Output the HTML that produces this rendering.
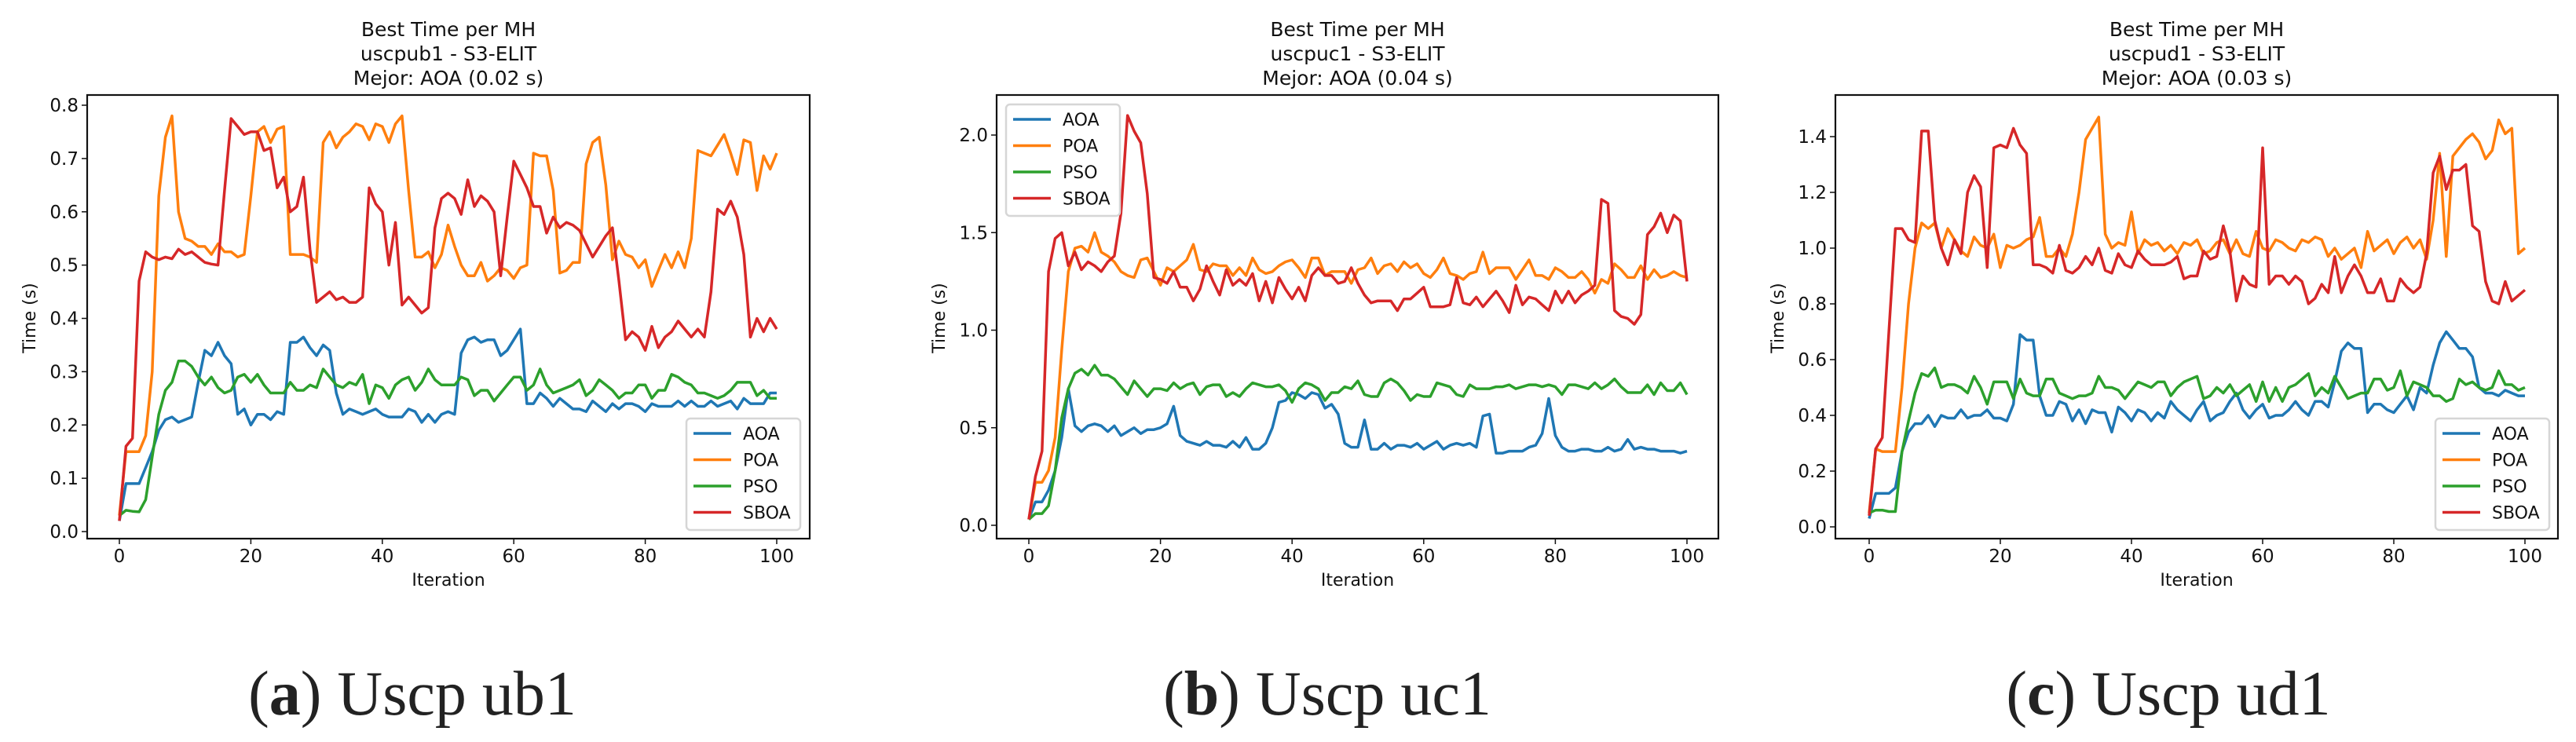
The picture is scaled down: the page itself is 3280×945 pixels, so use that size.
<!DOCTYPE html>
<html><head><meta charset="utf-8"><style>
html,body{margin:0;padding:0;background:#fff;}
svg{display:block;font-family:"DejaVu Sans","Liberation Sans",sans-serif;}
.cap{font-family:"Liberation Serif",serif;font-size:80px;fill:#222;}
</style></head><body>
<svg id="fig" width="3280" height="945" viewBox="0 0 3280 945" xmlns="http://www.w3.org/2000/svg">
<text class="cap" x="525" y="910" text-anchor="middle">(<tspan font-weight="bold">a</tspan>) Uscp ub1</text>
<text class="cap" x="1690" y="910" text-anchor="middle">(<tspan font-weight="bold">b</tspan>) Uscp uc1</text>
<text class="cap" x="2761" y="910" text-anchor="middle">(<tspan font-weight="bold">c</tspan>) Uscp ud1</text>
</svg>
<script>
const seriesNames = ["AOA","POA","PSO","SBOA"];
const seriesColors = ["#1f77b4","#ff7f0e","#2ca02c","#d62728"];
const xTicks = [0,20,40,60,80,100];

const ub1AOA = [.02,.09,.09,.09,.12,.15,.19,.21,.215,.205,.21,.215,.28,.34,.33,.355,.33,.315,.22,.23,.2,.22,.22,.21,.225,.22,.355,.355,.365,.345,.33,.35,.34,.26,.22,.23,.225,.22,.225,.23,.22,.215,.215,.215,.23,.225,.205,.22,.205,.22,.225,.22,.335,.36,.365,.355,.36,.36,.33,.34,.36,.38,.24,.24,.26,.25,.235,.25,.24,.23,.23,.225,.245,.235,.225,.24,.23,.24,.24,.235,.225,.24,.235,.235,.235,.245,.235,.245,.235,.235,.245,.235,.24,.245,.23,.25,.24,.24,.24,.26,.26];
const ub1POA = [.03,.15,.15,.15,.18,.3,.63,.74,.78,.6,.55,.545,.535,.535,.52,.54,.525,.525,.515,.52,.63,.75,.76,.73,.755,.76,.52,.52,.52,.515,.505,.73,.75,.72,.74,.75,.765,.76,.735,.765,.76,.73,.765,.78,.64,.515,.515,.525,.495,.52,.575,.535,.5,.48,.48,.505,.47,.48,.495,.49,.475,.495,.5,.71,.705,.705,.64,.485,.49,.505,.505,.69,.73,.74,.65,.51,.545,.52,.515,.495,.51,.46,.49,.52,.495,.525,.495,.55,.715,.71,.705,.725,.745,.71,.67,.735,.73,.64,.705,.68,.71];
const ub1PSO = [.03,.04,.038,.037,.06,.14,.22,.265,.28,.32,.32,.31,.29,.275,.29,.27,.26,.265,.29,.295,.28,.295,.275,.26,.26,.26,.28,.265,.265,.275,.27,.305,.29,.275,.27,.28,.275,.295,.24,.275,.27,.25,.275,.285,.29,.265,.28,.305,.285,.275,.275,.275,.29,.285,.255,.265,.265,.245,.26,.275,.29,.29,.265,.275,.305,.275,.26,.265,.27,.275,.285,.255,.265,.285,.275,.265,.25,.26,.26,.275,.275,.25,.265,.265,.295,.29,.28,.275,.26,.26,.255,.25,.255,.265,.28,.28,.28,.255,.265,.25,.25];
const ub1SBOA = [.02,.16,.175,.47,.525,.515,.51,.515,.512,.53,.52,.525,.515,.505,.502,.5,.64,.775,.76,.745,.75,.75,.715,.72,.645,.665,.6,.61,.665,.53,.43,.44,.45,.435,.44,.43,.43,.44,.645,.615,.6,.5,.58,.425,.44,.425,.41,.42,.57,.625,.635,.625,.595,.66,.61,.63,.62,.6,.48,.59,.695,.67,.645,.61,.61,.56,.59,.57,.58,.575,.565,.54,.515,.535,.555,.57,.47,.36,.375,.365,.34,.385,.345,.365,.375,.395,.38,.365,.38,.365,.45,.605,.595,.62,.59,.52,.365,.4,.375,.4,.38];

const uc1AOA = [.03,.12,.12,.18,.28,.45,.7,.51,.48,.51,.52,.51,.48,.51,.46,.48,.5,.47,.49,.49,.5,.52,.61,.46,.43,.42,.41,.43,.41,.41,.4,.43,.4,.45,.39,.39,.42,.5,.63,.64,.68,.67,.65,.68,.67,.6,.62,.57,.42,.4,.4,.54,.39,.39,.42,.39,.41,.41,.4,.42,.39,.41,.43,.39,.41,.42,.41,.42,.4,.56,.57,.37,.37,.38,.38,.38,.4,.41,.47,.65,.46,.4,.38,.38,.39,.39,.38,.38,.4,.38,.39,.44,.39,.4,.39,.39,.38,.38,.38,.37,.38];
const uc1POA = [.03,.22,.22,.28,.45,.9,1.3,1.42,1.43,1.4,1.5,1.4,1.38,1.35,1.3,1.28,1.27,1.36,1.37,1.3,1.23,1.32,1.3,1.33,1.36,1.44,1.31,1.3,1.34,1.33,1.33,1.28,1.32,1.28,1.37,1.31,1.29,1.3,1.33,1.35,1.36,1.32,1.27,1.37,1.37,1.28,1.3,1.3,1.3,1.24,1.31,1.32,1.37,1.29,1.33,1.34,1.3,1.35,1.32,1.34,1.29,1.27,1.31,1.37,1.29,1.28,1.26,1.29,1.3,1.4,1.29,1.32,1.32,1.32,1.26,1.31,1.36,1.28,1.28,1.26,1.32,1.3,1.27,1.27,1.3,1.26,1.19,1.26,1.24,1.34,1.31,1.27,1.27,1.33,1.26,1.31,1.27,1.28,1.3,1.28,1.27];
const uc1PSO = [.03,.06,.06,.1,.28,.55,.7,.78,.8,.77,.82,.77,.77,.75,.71,.67,.74,.7,.66,.7,.7,.69,.73,.7,.72,.73,.67,.71,.72,.72,.66,.68,.66,.7,.73,.72,.71,.71,.72,.69,.63,.7,.73,.72,.7,.64,.68,.68,.71,.7,.74,.67,.66,.66,.73,.75,.73,.69,.64,.67,.66,.66,.73,.72,.71,.67,.66,.72,.7,.7,.7,.71,.71,.72,.7,.71,.72,.72,.71,.72,.71,.67,.72,.72,.71,.7,.73,.7,.72,.75,.71,.68,.68,.68,.72,.67,.73,.69,.69,.73,.67];
const uc1SBOA = [.03,.25,.38,1.3,1.47,1.5,1.33,1.4,1.31,1.35,1.33,1.3,1.35,1.38,1.6,2.1,2.02,1.96,1.7,1.27,1.26,1.24,1.3,1.22,1.22,1.15,1.21,1.33,1.25,1.18,1.31,1.23,1.26,1.23,1.29,1.15,1.25,1.14,1.27,1.21,1.16,1.22,1.15,1.28,1.32,1.28,1.28,1.24,1.25,1.32,1.24,1.18,1.14,1.15,1.15,1.15,1.1,1.16,1.16,1.19,1.22,1.12,1.12,1.12,1.13,1.27,1.14,1.13,1.17,1.12,1.16,1.2,1.15,1.09,1.23,1.13,1.17,1.16,1.13,1.1,1.2,1.14,1.2,1.14,1.18,1.2,1.23,1.67,1.65,1.1,1.07,1.06,1.03,1.08,1.49,1.53,1.6,1.5,1.59,1.56,1.25];

const ud1AOA = [.03,.12,.12,.12,.14,.27,.34,.37,.37,.4,.36,.4,.39,.39,.42,.39,.4,.4,.42,.39,.39,.38,.44,.69,.67,.67,.47,.4,.4,.45,.44,.38,.42,.37,.42,.41,.41,.34,.43,.41,.38,.42,.41,.38,.41,.39,.45,.42,.4,.38,.42,.45,.38,.4,.41,.45,.48,.42,.39,.42,.44,.39,.4,.4,.42,.45,.42,.4,.45,.45,.43,.52,.63,.66,.64,.64,.41,.44,.44,.42,.41,.44,.47,.42,.5,.48,.58,.66,.7,.67,.64,.64,.61,.5,.48,.48,.47,.49,.48,.47,.47];
const ud1POA = [.05,.28,.27,.27,.27,.5,.8,1.0,1.09,1.07,1.09,1.0,1.07,1.03,.99,.97,1.04,1.01,1.0,1.05,.93,1.01,1.0,1.01,1.03,1.04,1.11,.97,.97,1.0,.97,1.05,1.2,1.39,1.43,1.47,1.05,1.0,1.02,1.01,1.13,.98,1.03,1.01,1.02,.99,1.01,.98,1.02,1.01,1.03,.98,.99,1.02,1.03,.98,1.03,.98,.97,1.06,1.0,.99,1.03,1.02,1.0,.99,1.03,1.02,1.04,1.03,.97,1.0,.96,.98,1.0,.93,1.06,.99,1.01,1.03,.98,1.02,1.04,1.0,1.03,.96,1.1,1.34,.97,1.33,1.36,1.39,1.41,1.38,1.32,1.35,1.46,1.41,1.43,.98,1.0];
const ud1PSO = [.05,.06,.06,.055,.055,.27,.38,.48,.55,.54,.57,.5,.51,.51,.5,.48,.54,.5,.44,.52,.52,.52,.46,.53,.48,.47,.47,.53,.53,.48,.47,.46,.47,.47,.48,.54,.5,.5,.49,.46,.49,.52,.51,.5,.52,.52,.47,.5,.52,.53,.54,.46,.47,.5,.48,.51,.47,.49,.51,.45,.52,.45,.5,.45,.5,.51,.53,.55,.47,.5,.48,.54,.5,.46,.47,.48,.48,.53,.53,.49,.5,.56,.47,.52,.51,.5,.47,.47,.45,.46,.53,.51,.52,.5,.49,.5,.56,.51,.51,.49,.5];
const ud1SBOA = [.04,.28,.32,.7,1.07,1.07,1.03,1.02,1.42,1.42,1.1,1.0,.94,1.03,.98,1.2,1.26,1.22,.93,1.36,1.37,1.36,1.43,1.37,1.34,.94,.94,.93,.91,1.01,.92,.91,.93,.97,.94,1.0,.92,.91,.98,.94,.93,.99,.96,.94,.94,.94,.95,.97,.89,.9,.9,.99,.96,.97,1.08,.99,.81,.9,.87,.86,1.36,.87,.9,.9,.87,.9,.88,.8,.82,.87,.84,.97,.84,.9,.94,.9,.84,.84,.89,.81,.81,.89,.86,.84,.86,.98,1.27,1.33,1.21,1.28,1.28,1.3,1.08,1.06,.88,.81,.8,.88,.81,.83,.85];

const yTicks1 = [0,0.1,0.2,0.3,0.4,0.5,0.6,0.7,0.8];
const yTicks2 = [0,0.5,1.0,1.5,2.0];
const yTicks3 = [0,0.2,0.4,0.6,0.8,1.0,1.2,1.4];
const titles = ["uscpub1 - S3-ELIT","uscpuc1 - S3-ELIT","uscpud1 - S3-ELIT"];
const bests = ["Mejor: AOA (0.02 s)","Mejor: AOA (0.04 s)","Mejor: AOA (0.03 s)"];

const NS="http://www.w3.org/2000/svg";
const svg=document.getElementById('fig');
function mk(tag,attrs,parent){const e=document.createElementNS(NS,tag);for(const k in attrs)e.setAttribute(k,attrs[k]);(parent||svg).appendChild(e);return e;}

const panels=[
 {id:"ub1",L:111,R:1031,T:121,B:686,x0:152,x100:989,y0:677,yTop:134,yTopVal:0.8,ticks:yTicks1,dec:1,series:[ub1AOA,ub1POA,ub1PSO,ub1SBOA],leg:[874,533],ylx:37},
 {id:"uc1",L:1269,R:2188,T:121,B:686,x0:1310,x100:2148,y0:669,yTop:172,yTopVal:2.0,ticks:yTicks2,dec:1,series:[uc1AOA,uc1POA,uc1PSO,uc1SBOA],leg:[1281,133],ylx:1195},
 {id:"ud1",L:2337,R:3257,T:121,B:686,x0:2380,x100:3215,y0:671,yTop:174,yTopVal:1.4,ticks:yTicks3,dec:1,series:[ud1AOA,ud1POA,ud1PSO,ud1SBOA],leg:[3101,533],ylx:2263}
];

panels.forEach((p,pi)=>{
  const g=mk('g',{});
  
  
  const xs=v=>p.x0+(p.x100-p.x0)*v/100;
  const ys=v=>p.y0-(p.y0-p.yTop)*v/p.yTopVal;
  const cx=(p.L+p.R)/2;
  // title
  [["Best Time per MH",46],[titles[pi],77],[bests[pi],108]].forEach((t,i)=>{
    const e=mk('text',{x:cx,y:t[1],'text-anchor':'middle','font-size':25,fill:'#111'},g);
    e.textContent=t[0];
    
    
  });
  // series
  p.series.forEach((arr,si)=>{
    const pts=arr.map((v,i)=>xs(i).toFixed(1)+','+ys(v).toFixed(1)).join(' ');
    const pl=mk('polyline',{points:pts,fill:'none',stroke:seriesColors[si],'stroke-width':3.5,'stroke-linejoin':'round'},g);
    
    
  });
  // frame
  const fr=mk('rect',{x:p.L,y:p.T,width:p.R-p.L,height:p.B-p.T,fill:'none',stroke:'#111','stroke-width':2.2},g);
  
  
  // x ticks
  xTicks.forEach(t=>{
    const x=xs(t);
    mk('line',{x1:x,y1:p.B,x2:x,y2:p.B+7,stroke:'#111','stroke-width':1.5},g);
    const e=mk('text',{x:x,y:p.B+30,'text-anchor':'middle','font-size':23,fill:'#111'},g);
    e.textContent=String(t);
    
    
  });
  // y ticks
  p.ticks.forEach(t=>{
    const y=ys(t);
    mk('line',{x1:p.L,y1:y,x2:p.L-7,y2:y,stroke:'#111','stroke-width':1.5},g);
    const e=mk('text',{x:p.L-11,y:y+8,'text-anchor':'end','font-size':23,fill:'#111'},g);
    e.textContent=t.toFixed(p.dec);
    
    
  });
  const xl=mk('text',{x:cx,y:746,'text-anchor':'middle','font-size':22,fill:'#111'},g);
  xl.textContent="Iteration";
  
  
  const yl=mk('text',{x:p.ylx+8,y:405,'text-anchor':'middle','font-size':22,fill:'#111',transform:'rotate(-90 '+(p.ylx+8)+' 405)'},g);
  yl.textContent="Time (s)";
  
  
  // legend
  const lg=mk('g',{},g);
  
  
  mk('rect',{x:p.leg[0],y:p.leg[1],width:145,height:142,rx:5,fill:'#fff','fill-opacity':0.85,stroke:'#d6d6d6','stroke-width':2.5},lg);
  seriesNames.forEach((n,si)=>{
    const yy=p.leg[1]+19+si*33.5;
    const ln=mk('line',{x1:p.leg[0]+9,y1:yy,x2:p.leg[0]+57,y2:yy,stroke:seriesColors[si],'stroke-width':3.5},lg);
    
    
    const tx=mk('text',{x:p.leg[0]+72,y:yy+8,'font-size':22,fill:'#111'},lg);
    tx.textContent=n;
    
    
  });
});
</script>
</body></html>
